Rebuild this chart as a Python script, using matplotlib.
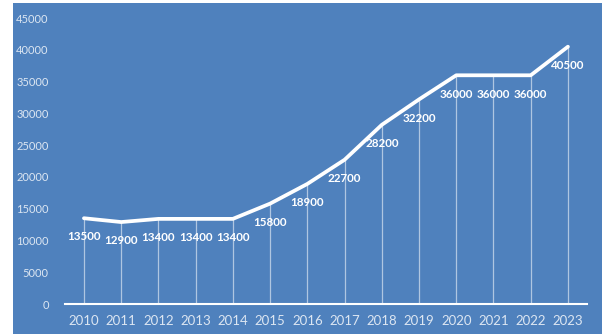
import matplotlib.pyplot as plt
from matplotlib.patches import Rectangle

plt.rcParams['font.family'] = ['Lato', 'DejaVu Sans']

# số liệu theo năm
years = ["2010", "2011", "2012", "2013", "2014", "2015", "2016",
         "2017", "2018", "2019", "2020", "2021", "2022", "2023"]
values = [13500, 12900, 13400, 13400, 13400, 15800, 18900,
          22700, 28200, 32200, 36000, 36000, 36000, 40500]
y_ticks = [0, 5000, 10000, 15000, 20000, 25000, 30000, 35000, 40000, 45000]

BG = "#4f81bd"
TICK_COLOR = "#dce6f2"

fig = plt.figure(figsize=(6.05, 3.34), dpi=100, facecolor="white")
# nền xanh của vùng biểu đồ
fig.patches.append(Rectangle((13 / 605, 0), 589 / 605, 331 / 334,
                             transform=fig.transFigure, facecolor=BG,
                             edgecolor="none", zorder=-10))

ax = fig.add_axes([0.108, 0.0898, 0.8615, 0.856])
ax.set_facecolor("none")

x = list(range(len(years)))
ax.vlines(x, 0, values, color="white", alpha=0.55, linewidth=0.9, zorder=1)
ax.plot(x, values, color="white", linewidth=2.7, solid_capstyle="round",
        solid_joinstyle="round", zorder=3)

for xi, v in zip(x, values):
    ax.annotate(f"{v}", (xi, v), xytext=(0, -13.5), textcoords="offset points",
                ha="center", va="center", color="white", fontsize=8.4,
                fontweight="bold", zorder=4)

ax.set_xlim(-0.5, len(years) - 0.5)
ax.set_ylim(0, 45000)
ax.set_xticks(x)
ax.set_xticklabels(years, fontsize=9.5)
ax.set_yticks(y_ticks)
ax.set_yticklabels([str(t) for t in y_ticks], fontsize=8)
ax.tick_params(axis="both", length=0, colors=TICK_COLOR)
ax.tick_params(axis="x", pad=8)
ax.tick_params(axis="y", pad=12)

for side in ["top", "right", "left"]:
    ax.spines[side].set_visible(False)
ax.spines["bottom"].set_color("white")
ax.spines["bottom"].set_linewidth(1.5)

fig.savefig("out.png", dpi=100, facecolor="white")
